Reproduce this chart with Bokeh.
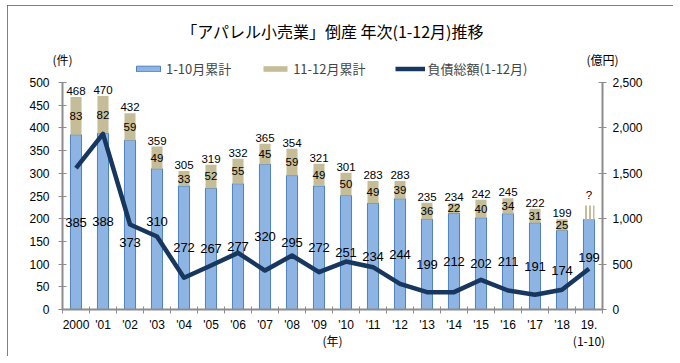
from bokeh.plotting import figure
from bokeh.models import (Range1d, LinearAxis, FixedTicker, SingleIntervalTicker,
                          NumeralTickFormatter, Legend, LegendItem, ColumnDataSource, Title)
from bokeh.core.properties import value
from bokeh.embed import file_html
from bokeh.resources import INLINE

# ---- data ----
year_labels = ["2000", "'01", "'02", "'03", "'04", "'05", "'06", "'07", "'08", "'09",
               "'10", "'11", "'12", "'13", "'14", "'15", "'16", "'17", "'18", "19."]
jan_oct = [385, 388, 373, 310, 272, 267, 277, 320, 295, 272,
           251, 234, 244, 199, 212, 202, 211, 191, 174, 199]
nov_dec = [83, 82, 59, 49, 33, 52, 55, 45, 59, 49,
           50, 49, 39, 36, 22, 40, 34, 31, 25]          # 2019 not yet known
pending_2019 = 30                                       # drawn placeholder ("?")
debt = [1556, 1935, 936, 804, 349, 484, 624, 429, 595, 411,
        528, 466, 283, 191, 191, 327, 209, 162, 217, 448]  # 億円
count_max = 500
debt_max = 2500

# label nudges (pixels, positive = down) for the 1-10 labels
inner_nudge = [0, 0, 18, -18, 0, 0, 0, 0, 0, 0,
               0, 0, 0, 0, 0, 0, 0, 0, 0, -7]

BLUE = "#8EB4E3"
BLUE_EDGE = "#4F81BD"
TAN = "#C4BD97"
NAVY = "#17375E"
AXIS = "#8C8C8C"
JP = "Noto Sans CJK JP"
NUM = "Liberation Sans"

# layout (pixels)
AXIS_H = 227          # height of the 0..500 scale
HEAD = 23             # frame space above the 500 line (legend lives there)
stretch = (AXIS_H + HEAD) / AXIS_H

n = len(year_labels)
xs = list(range(n))
xs_done = xs[:len(nov_dec)]
totals = [a + b for a, b in zip(jan_oct, nov_dec)]

p = figure(width=666, height=351, output_backend="svg", toolbar_location=None,
           x_range=Range1d(-0.5, n - 0.5), y_range=Range1d(0, count_max * stretch),
           min_border_left=55, min_border_right=71, min_border_top=54, min_border_bottom=47,
           title=None)
p.styles = {"margin": "5px 0px 0px 7px", "outline": "1px solid #555555",
            "outline-offset": "-1px"}
p.outline_line_color = None
p.xgrid.visible = False
p.ygrid.visible = False
p.extra_y_ranges = {"debt": Range1d(0, debt_max * stretch)}

# bars
src_a = ColumnDataSource(dict(x=xs, top=jan_oct, mid=[v / 2 for v in jan_oct],
                              lab=[str(v) for v in jan_oct], nudge=inner_nudge))
r_a = p.vbar(x="x", top="top", bottom=0, width=0.41, source=src_a,
             fill_color=BLUE, line_color=BLUE_EDGE, line_width=1)
src_b = ColumnDataSource(dict(x=xs_done, bottom=jan_oct[:len(nov_dec)], top=totals,
                              mid=[a + b / 2 for a, b in zip(jan_oct, nov_dec)],
                              lab=[str(v) for v in nov_dec], tot=[str(v) for v in totals]))
r_b = p.vbar(x="x", top="top", bottom="bottom", width=0.41, source=src_b,
             fill_color=TAN, line_color=None)
p.vbar(x=[xs[-1]], bottom=[jan_oct[-1]], top=[jan_oct[-1] + pending_2019], width=0.41,
       fill_color="white", line_color=None, hatch_pattern="|", hatch_color=TAN,
       hatch_scale=4, hatch_weight=2)

# line
r_c = p.line(x=xs, y=debt, y_range_name="debt", line_color=NAVY, line_width=4.5,
             line_join="round")

# data labels
p.text(x="x", y="mid", text="lab", y_offset="nudge", source=src_a, text_align="center",
       text_baseline="middle", text_font=value(NUM), text_font_size="13px", text_color="black")
p.text(x="x", y="mid", text="lab", source=src_b, text_align="center",
       text_baseline="middle", text_font=value(NUM), text_font_size="11.5px", text_color="black")
p.text(x="x", y="top", text="tot", source=src_b, text_align="center", y_offset=-2,
       text_baseline="bottom", text_font=value(NUM), text_font_size="11.5px", text_color="black")
p.text(x=[xs[-1]], y=[jan_oct[-1] + pending_2019], text=["?"], text_align="center", y_offset=-5,
       text_baseline="bottom", text_font=value(NUM), text_font_size="11.5px", text_color="black")

# axes
def style_axis(ax, font=NUM):
    ax.axis_line_color = AXIS
    ax.axis_line_width = 2
    ax.major_tick_line_color = AXIS
    ax.minor_tick_line_color = AXIS
    ax.major_label_text_font = font
    ax.major_label_text_font_size = "12px"
    ax.major_label_text_color = "black"

def bare_axis(ax):
    ax.axis_line_color = None
    ax.major_tick_in = 0
    ax.major_tick_out = 0
    ax.minor_tick_in = 0
    ax.minor_tick_out = 0

yl = p.yaxis[0]
style_axis(yl)
yl.ticker = SingleIntervalTicker(interval=50)
yl.bounds = (0, count_max)
yl.major_tick_in = 4
yl.major_tick_out = 4
yl.minor_tick_in = 0
yl.minor_tick_out = 0
yl.major_label_standoff = 9

yr = LinearAxis(y_range_name="debt", ticker=SingleIntervalTicker(interval=500),
                formatter=NumeralTickFormatter(format="0,0"), bounds=(0, debt_max))
style_axis(yr)
yr.major_tick_in = 4
yr.major_tick_out = 4
yr.minor_tick_in = 0
yr.minor_tick_out = 0
yr.major_label_standoff = 6
p.add_layout(yr, "right")

xa = p.xaxis[0]
style_axis(xa)
xa.ticker = FixedTicker(ticks=xs, minor_ticks=[i - 0.5 for i in range(n + 1)])
xa.major_label_overrides = {i: lab for i, lab in enumerate(year_labels)}
xa.major_tick_in = 0
xa.major_tick_out = 0
xa.minor_tick_in = 3
xa.minor_tick_out = 4
xa.major_label_standoff = 4

# second row under the year labels: "(年)" and "(1-10)"
xb = LinearAxis(ticker=FixedTicker(ticks=[9.5, 19]),
                major_label_overrides={9.5: "(年)", 19: "(1-10)"})
style_axis(xb, font=JP)
bare_axis(xb)
xb.major_label_standoff = -3
p.add_layout(xb, "below")

# legend inside the top strip of the frame
legend = Legend(items=[LegendItem(label="1-10月累計", renderers=[r_a]),
                       LegendItem(label="11-12月累計", renderers=[r_b]),
                       LegendItem(label="負債総額(1-12月)", renderers=[r_c])],
                orientation="horizontal", location=(71, AXIS_H + 4), padding=0, margin=0,
                spacing=29, label_standoff=3, glyph_width=30, glyph_height=7,
                label_height=14, label_text_font=JP, label_text_font_size="13px",
                label_text_baseline="middle",
                background_fill_alpha=0, border_line_color=None)
p.add_layout(legend, "center")

# unit row and title above the frame
xu = LinearAxis(ticker=FixedTicker(ticks=[-0.5, n - 0.5]),
                major_label_overrides={-0.5: "(件)", n - 0.5: "(億円)"})
style_axis(xu, font=JP)
bare_axis(xu)
xu.major_label_standoff = -8
p.add_layout(xu, "above")

p.add_layout(Title(text="「アパレル小売業」倒産 年次(1-12月)推移", align="center",
                   text_font=JP, text_font_size="16px", text_font_style="normal",
                   text_color="black", standoff=10), "above")

open("out.html", "w").write(file_html(p, INLINE))
